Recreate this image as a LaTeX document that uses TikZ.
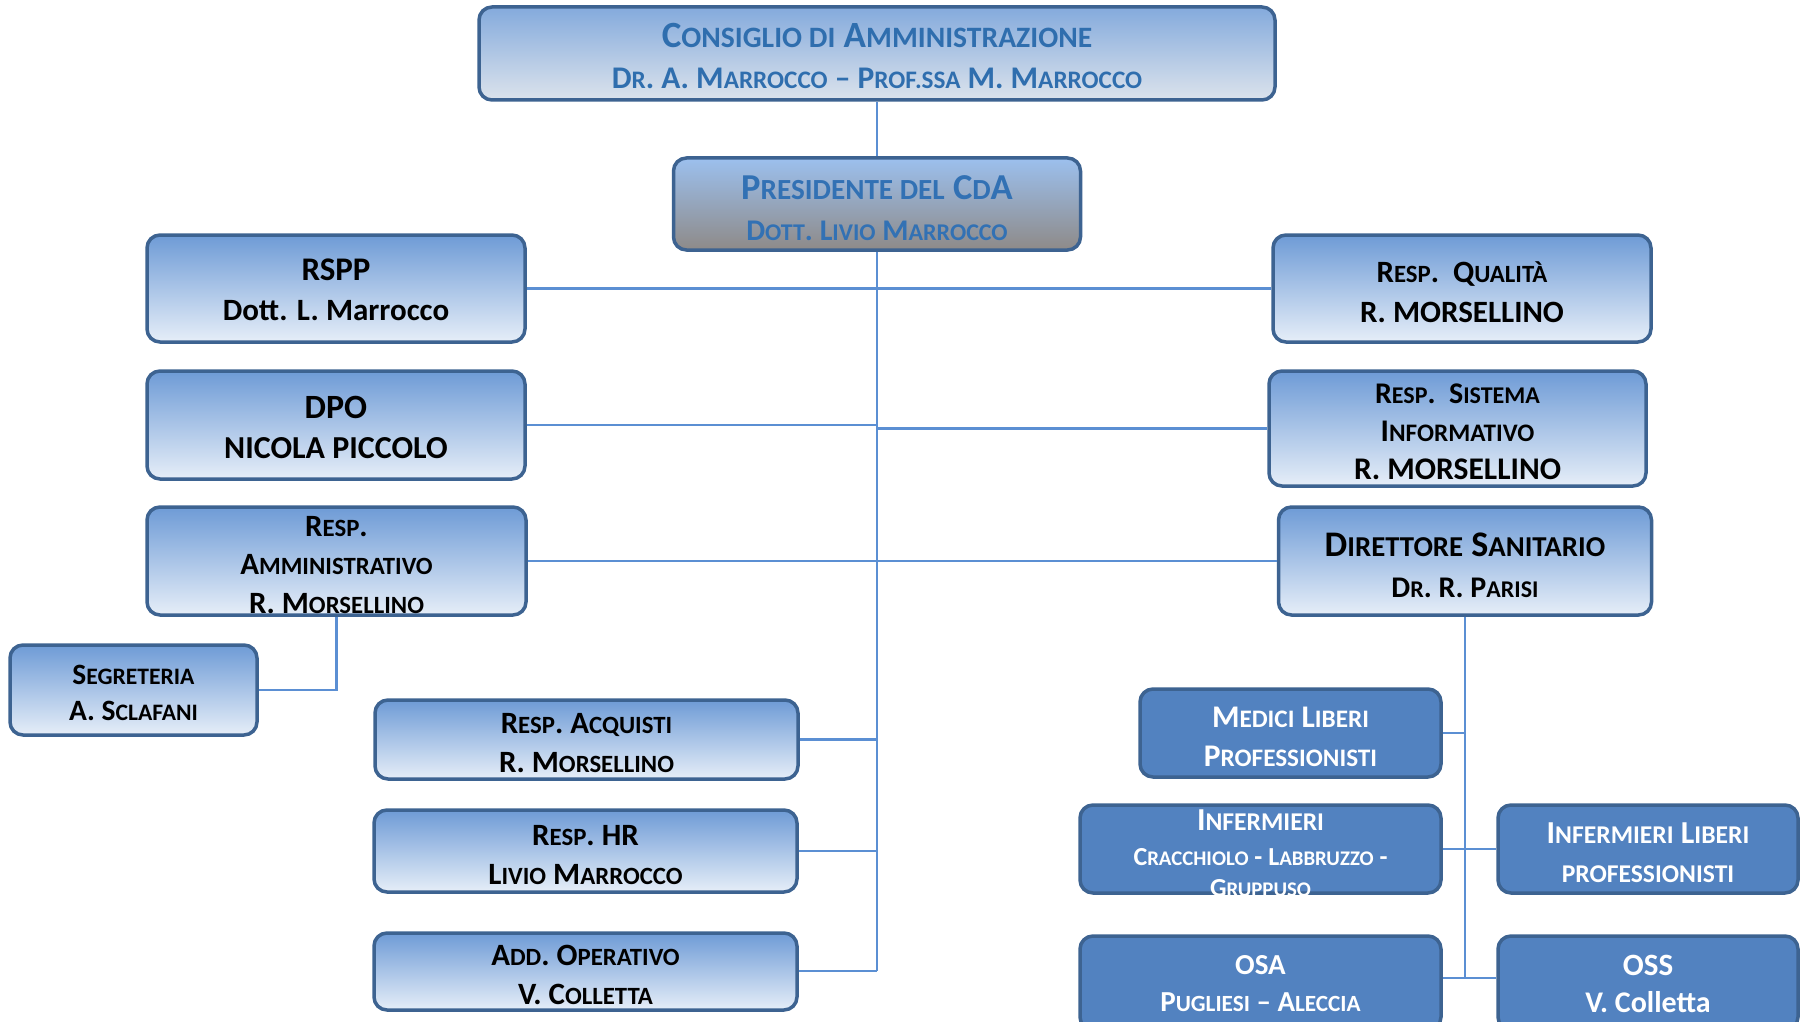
\documentclass[tikz,border=0pt]{standalone}
\usepackage{fontspec}
\setmainfont{Carlito}
\newfontfamily\scf{Carlito}[Scale=0.8]
\newcommand\s[1]{{\scf\bfseries #1}}
\newcommand\fs[2]{\fontsize{#1}{#2}\selectfont}
\definecolor{bord}{HTML}{3D6391}
\definecolor{lt}{HTML}{6E9BD6}
\definecolor{lb}{HTML}{E6EEF8}
\definecolor{db}{HTML}{5282C0}
\definecolor{lc}{HTML}{5B8FD3}
\definecolor{tb}{HTML}{2F6EAE}
\definecolor{pt}{HTML}{9CC0EE}
\definecolor{pm}{HTML}{82ABDF}
\definecolor{pb}{HTML}{8E8A88}
\definecolor{ptext}{HTML}{3271B4}
\tikzset{
  box/.style={draw=bord, line width=3.5pt, rounded corners=13pt, inner sep=0pt},
  lbox/.style={box, top color=lt, bottom color=lb},
  cbox/.style={box, top color=lt!85, bottom color=lb!90!gray},
  pbox/.style={box, top color=pt, middle color=pm, bottom color=pb},
  dbox/.style={box, fill=db},
  conn/.style={draw=lc, line width=2.5pt},
  txt/.style={align=center, inner sep=0pt, font=\bfseries\fs{31}{38.5}},
  ttop/.style={txt, text=tb, font=\bfseries\fs{31.5}{41}},
  twhite/.style={txt, text=white}
}
\begin{document}
\begin{tikzpicture}[x=1pt,y=-1pt]
\clip (0,0) rectangle (1800,1022);
\fill[white] (0,0) rectangle (1800,1022);
\coordinate (trunkend) at (877,971);
\coordinate (dirend) at (1465,978);
% boxes
\node[cbox, minimum width=796pt, minimum height=93pt] (cda) at (877,53.5) {};
\node[pbox, minimum width=407pt, minimum height=92pt] (pres) at (877,204) {};
\node[lbox, minimum width=378pt, minimum height=107pt] (rspp) at (336,288.5) {};
\node[lbox, minimum width=378pt, minimum height=108pt] (dpo) at (336,425) {};
\node[lbox, minimum width=379pt, minimum height=108pt] (amm) at (336.5,561) {};
\node[lbox, minimum width=247pt, minimum height=90pt] (segr) at (133.5,690) {};
\node[lbox, minimum width=378pt, minimum height=107pt] (qual) at (1462,288.5) {};
\node[lbox, minimum width=377pt, minimum height=115pt] (sist) at (1457.5,428.5) {};
\node[lbox, minimum width=373pt, minimum height=108pt] (dir) at (1465,561) {};
\node[lbox, minimum width=423pt, minimum height=79pt] (acq) at (586.5,739.5) {};
\node[lbox, minimum width=423pt, minimum height=82pt] (hr) at (585.5,851) {};
\node[lbox, minimum width=423pt, minimum height=77pt] (addop) at (585.5,971.5) {};
\node[dbox, minimum width=301pt, minimum height=88pt] (med) at (1290.5,733) {};
\node[dbox, minimum width=361pt, minimum height=88pt] (inf) at (1260.5,849) {};
\node[dbox, minimum width=300pt, minimum height=88pt] (infl) at (1648,849) {};
\node[dbox, minimum width=361pt, minimum height=94pt] (osa) at (1260.5,983) {};
\node[dbox, minimum width=300pt, minimum height=94pt] (oss) at (1648,983) {};
% connectors
\path[conn] (cda.south) -- (pres.north);
\path[conn] (pres.south) -- (trunkend);
\path[conn] (rspp.east) -- (qual.west);
\path[conn] (dpo.east) -- (dpo.east -| trunkend);
\path[conn] (sist.west) -- (sist.west -| trunkend);
\path[conn] (amm.east) -- (dir.west);
\path[conn] (amm.south) |- (segr.east);
\path[conn] (acq.east) -- (acq.east -| trunkend);
\path[conn] (hr.east) -- (hr.east -| trunkend);
\path[conn] (addop.east |- trunkend) -- (trunkend);
\path[conn] (dir.south) -- (dirend);
\path[conn] (med.east) -- (med.east -| dirend);
\path[conn] (inf.east) -- (infl.west);
\path[conn] (osa.east |- dirend) -- (oss.west |- dirend);
% texts
\node[ttop] (cdat) at (877,56) {{\fs{37}{41}C\s{ONSIGLIO DI} A\s{MMINISTRAZIONE}}\\D\s{R}. A. M\s{ARROCCO} -- P\s{ROF.SSA} M. M\s{ARROCCO}};
\node[ttop, text=ptext, font=\bfseries\fs{30}{41}] (prest) at (877,208) {{\fs{36.5}{41}P\s{RESIDENTE DEL} C\s{D}A}\\D\s{OTT}. L\s{IVIO} M\s{ARROCCO}};
\node[txt, font=\bfseries\fs{31}{40}] (rsppt) at (336,290) {{\fs{33}{40}RSPP}\\Dott. L. Marrocco};
\node[txt, font=\bfseries\fs{32}{40}] (dpot) at (336,427) {{\fs{34}{40}DPO}\\NICOLA PICCOLO};
\node[txt] (ammt) at (336.5,565) {R\s{ESP}.\\A\s{MMINISTRATIVO}\\R. M\s{ORSELLINO}};
\node[txt, font=\bfseries\fs{29.5}{36}] (segrt) at (133.5,693) {S\s{EGRETERIA}\\A. S\s{CLAFANI}};
\node[txt, font=\bfseries\fs{31}{40}] (qualt) at (1462,292) {R\s{ESP}.\ \ Q\s{UALITÀ}\\R. MORSELLINO};
\node[txt, font=\bfseries\fs{31.5}{38}] (sistt) at (1457.5,432) {{\fs{30}{38}R\s{ESP}.\ \ S\s{ISTEMA}}\\I\s{NFORMATIVO}\\R. MORSELLINO};
\node[txt, font=\bfseries\fs{30}{41}] (dirt) at (1465,565) {{\fs{36}{41}D\s{IRETTORE} S\s{ANITARIO}}\\D\s{R}. R. P\s{ARISI}};
\node[txt] (acqt) at (586.5,743) {R\s{ESP}. A\s{CQUISTI}\\R. M\s{ORSELLINO}};
\node[txt] (hrt) at (585.5,855) {R\s{ESP}. HR\\L\s{IVIO} M\s{ARROCCO}};
\node[txt] (addopt) at (585.5,975) {A\s{DD}. O\s{PERATIVO}\\V. C\s{OLLETTA}};
\node[twhite, font=\bfseries\fs{31.5}{39}] (medt) at (1290.5,736.5) {M\s{EDICI} L\s{IBERI}\\P\s{ROFESSIONISTI}};
\node[twhite, font=\bfseries\fs{26}{31}] (inft) at (1260.5,853) {{\fs{32}{36}I\s{NFERMIERI}}\\[4pt]C\s{RACCHIOLO} - L\s{ABBRUZZO} -\\G\s{RUPPUSO}};
\node[twhite, font=\bfseries\fs{32}{39}] (inflt) at (1648,853) {I\s{NFERMIERI} L\s{IBERI}\\\s{PROFESSIONISTI}};
\node[twhite, font=\bfseries\fs{29}{37}] (osat) at (1260.5,984) {OSA\\P\s{UGLIESI} -- A\s{LECCIA}};
\node[twhite, font=\bfseries\fs{30}{37}] (osst) at (1648,984) {{\fs{31}{37}OSS}\\V. Colletta};
\end{tikzpicture}
\end{document}
